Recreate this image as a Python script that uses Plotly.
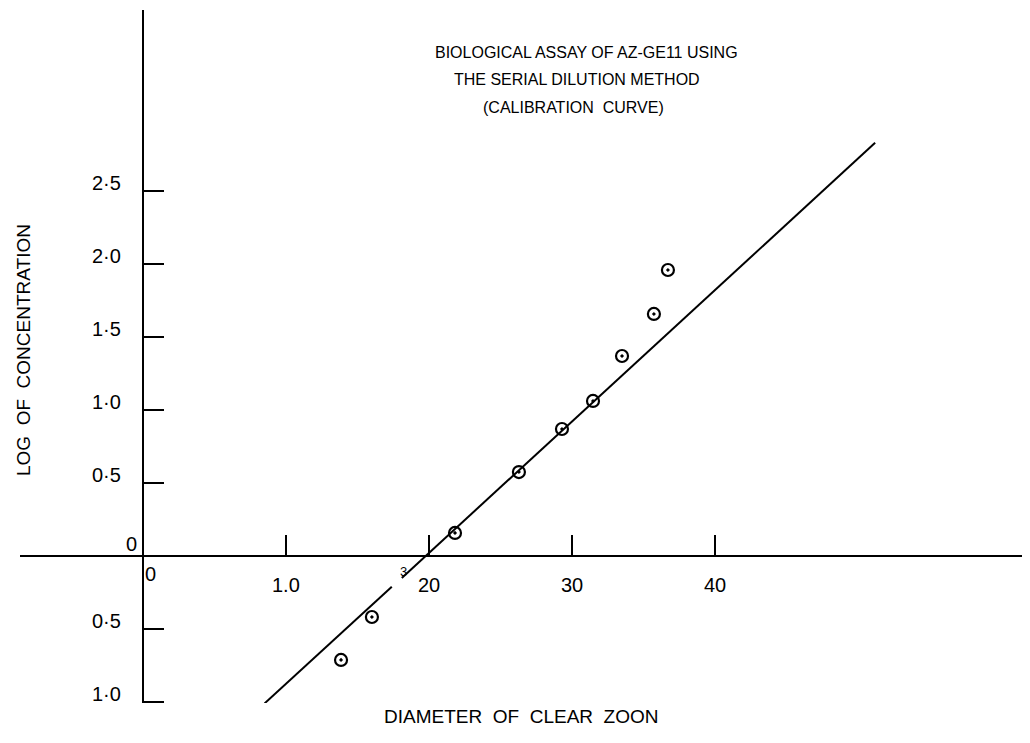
import plotly.graph_objects as go

# Data
diam = [1.385, 1.601, 2.182, 2.629, 2.930, 3.147, 3.350, 3.573, 3.671]
logc = [-0.712, -0.418, 0.158, 0.575, 0.870, 1.062, 1.370, 1.658, 1.959]

fit_x = [0.85, 1.74, None, 1.81, 5.12]
fit_y = [-1.01, -0.21, None, -0.15, 2.83]

x_tickvals = [1.0, 2.0, 3.0, 4.0]
x_ticktext = ["1.0", "20", "30", "40"]
y_tickvals = [2.5, 2.0, 1.5, 1.0, 0.5, -0.5, -1.0]
y_ticktext = ["2·5", "2·0", "1·5", "1·0", "0·5", "0·5", "1·0"]

title_lines = ["BIOLOGICAL ASSAY OF AZ-GE11 USING",
               "THE SERIAL DILUTION METHOD",
               "(CALIBRATION  CURVE)"]

x_range = [-0.860, 6.203]
y_range = [-1.007, 3.740]

FONT = "Liberation Sans"

# page geometry (body has 8px margin)
PL, PT, PW, PH = 20, 10, 1010, 693


def px(x):
    return (x - PL) / PW


def py(y):
    return 1 - (y - PT) / PH


fig = go.Figure()
fig.add_trace(go.Scatter(x=fit_x, y=fit_y, mode="lines",
                         line=dict(color="black", width=2), connectgaps=False,
                         showlegend=False, hoverinfo="skip"))
fig.add_trace(go.Scatter(x=diam, y=logc, mode="markers",
                         marker=dict(symbol="circle-open-dot", size=12,
                                     color="black", line=dict(width=2.2, color="black")),
                         showlegend=False))

xpos = (0 - y_range[0]) / (y_range[1] - y_range[0])
ypos = (0 - x_range[0]) / (x_range[1] - x_range[0])

tf = dict(family=FONT, size=20, color="black")
annotations = []
for v, t in zip(x_tickvals, x_ticktext):
    annotations.append(dict(x=v, y=0, xref="x", yref="y", text=t, showarrow=False,
                            yshift=-29, font=tf))
for v, t in zip(y_tickvals, y_ticktext):
    annotations.append(dict(x=0, y=v, xref="x", yref="y", text=t, showarrow=False,
                            xanchor="right", xshift=-20, yshift=8, font=tf))
# origin labels
annotations.append(dict(x=0, y=0, xref="x", yref="y", text="0", showarrow=False,
                        xanchor="right", xshift=-4, yshift=12, font=tf))
annotations.append(dict(x=0, y=0, xref="x", yref="y", text="0", showarrow=False,
                        xanchor="left", xshift=0, yshift=-18, font=tf))
annotations.append(dict(x=1.82, y=0, xref="x", yref="y", text="3", showarrow=False,
                        yshift=-16, font=dict(family=FONT, size=13, color="black")))

title_y = [53, 80, 107]
title_x = [586, 577, 573]
for t, x0, y0 in zip(title_lines, title_x, title_y):
    annotations.append(dict(x=px(x0), y=py(y0), xref="paper", yref="paper",
                            text=t, showarrow=False, xanchor="center", yanchor="middle",
                            font=dict(family=FONT, size=16, color="black")))

annotations.append(dict(x=px(23), y=py(350), xref="paper", yref="paper",
                        text="LOG  OF  CONCENTRATION", textangle=-90, showarrow=False,
                        xanchor="center", yanchor="middle",
                        font=dict(family=FONT, size=19, color="black")))
annotations.append(dict(x=px(521), y=py(717), xref="paper", yref="paper",
                        text="DIAMETER  OF  CLEAR  ZOON", showarrow=False,
                        xanchor="center", yanchor="middle",
                        font=dict(family=FONT, size=19, color="black")))

fig.update_layout(
    width=1022, height=735,
    margin=dict(l=12, r=0, t=2, b=40),
    paper_bgcolor="white", plot_bgcolor="white",
    showlegend=False,
    xaxis=dict(range=x_range, anchor="free", position=xpos, side="bottom",
               showline=True, linecolor="black", linewidth=2,
               ticks="inside", ticklen=20, tickwidth=2, tickcolor="black",
               tickvals=x_tickvals, showticklabels=False,
               showgrid=False, zeroline=False, fixedrange=True),
    yaxis=dict(range=y_range, anchor="free", position=ypos, side="left",
               showline=True, linecolor="black", linewidth=2,
               ticks="inside", ticklen=20, tickwidth=2, tickcolor="black",
               tickvals=y_tickvals, showticklabels=False,
               showgrid=False, zeroline=False, fixedrange=True),
    annotations=annotations,
)

fig.write_html("out.html")
